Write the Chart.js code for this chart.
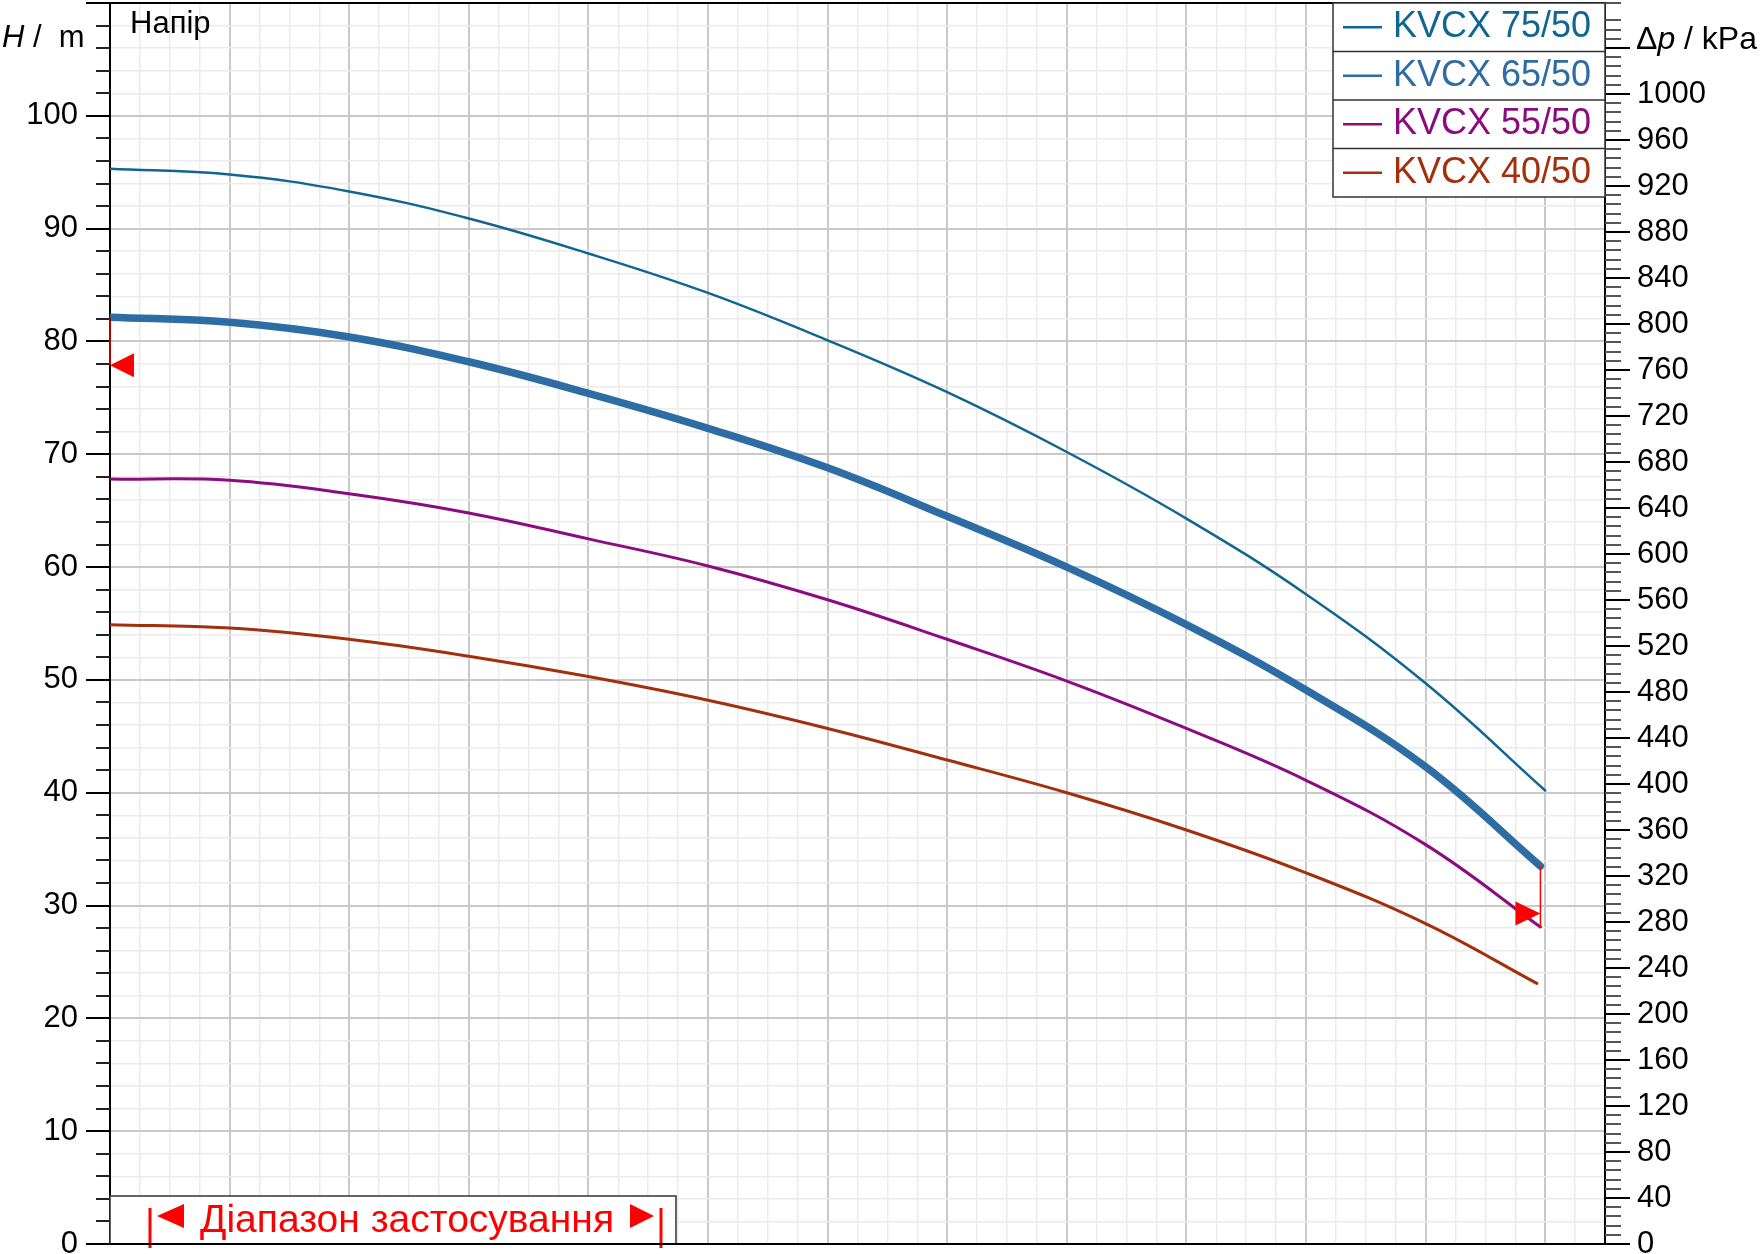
<!DOCTYPE html>
<html lang="uk">
<head>
<meta charset="utf-8">
<title>Напір</title>
<script src="https://cdn.jsdelivr.net/npm/chart.js@4.4.1/dist/chart.umd.min.js"></script>
<style>
  html, body { margin: 0; padding: 0; background: #fff; }
  #wrap { width: 1761px; height: 1254px; position: relative; }
</style>
</head>
<body>
<div id="wrap"><canvas id="chart"></canvas></div>
<script>
// flow positions, one unit per major vertical grid line (the x labels are cut off in the source)
const flow = [0, 1, 2, 3, 4, 5, 6, 7, 8, 9, 10, 11];

const models = ['KVCX 75/50', 'KVCX 65/50', 'KVCX 55/50', 'KVCX 40/50'];
const flowEnd = [12, 11.96, 11.96, 11.93];
const head75 = [95.3, 94.8, 93.3, 90.9, 87.8, 84.3, 80.1, 75.5, 70.2, 64.3, 57.6, 49.7, 40.2];
const head65 = [82.15, 81.7, 80.4, 78.2, 75.4, 72.3, 68.8, 64.5, 60.0, 54.9, 49.1, 42.3, 33.5];
const head55 = [67.8, 67.7, 66.5, 64.8, 62.5, 60.1, 57.1, 53.6, 49.9, 45.7, 41.1, 35.4, 28.1];
const head40 = [54.9, 54.6, 53.6, 52.1, 50.3, 48.2, 45.7, 42.9, 40.0, 36.7, 32.9, 28.4, 23.1];

const colors = ['#11668f', '#2e6ca4', '#8c0c80', '#a2300d'];
const widths = [2.5, 7.5, 3, 3];

// operating range (red triangles)
const rangeStart = { q: 0, h: 77.9 };
const rangeEnd = { q: 11.96, h: 29.3 };
const rangeLabel = 'Діапазон застосування';

const headMax = 110;
const flowMax = 12.5;
const kPaPerMetre = 9.81;
const kPaLabelMax = 1000;

const FONT = '"Liberation Sans", Arial, sans-serif';

function line(ctx, x1, y1, x2, y2) {
  ctx.beginPath();
  ctx.moveTo(x1, y1);
  ctx.lineTo(x2, y2);
  ctx.stroke();
}

function tri(ctx, pts, color) {
  ctx.fillStyle = color;
  ctx.beginPath();
  ctx.moveTo(pts[0], pts[1]);
  ctx.lineTo(pts[2], pts[3]);
  ctx.lineTo(pts[4], pts[5]);
  ctx.closePath();
  ctx.fill();
}

const decor = {
  id: 'decor',
  afterDraw(chart) {
    const { ctx, chartArea: a, scales } = chart;
    const x = scales.x, y = scales.y, y2 = scales.y2;
    ctx.save();

    // frame top
    ctx.strokeStyle = '#000';
    ctx.lineWidth = 2;
    line(ctx, a.left, a.top, a.right, a.top);

    // tick marks, long every 10 m / 40 kPa
    y.ticks.forEach(t => {
      const py = Math.round(y.getPixelForValue(t.value));
      const major = Math.round(t.value) % 10 === 0;
      ctx.strokeStyle = major ? '#000' : '#222';
      line(ctx, a.left - (major ? 24 : 14), py, a.left, py);
    });
    y2.ticks.forEach(t => {
      const py = Math.round(y2.getPixelForValue(t.value));
      const major = Math.abs(t.value - Math.round(t.value / 40) * 40) < 0.01;
      ctx.strokeStyle = major ? '#000' : '#555';
      line(ctx, a.right, py, a.right + (major ? 25 : 16), py);
    });

    // axis titles
    ctx.fillStyle = '#000';
    ctx.textBaseline = 'alphabetic';
    ctx.textAlign = 'left';
    ctx.font = `italic 31px ${FONT}`;
    ctx.fillText('H', 2, 47);
    let w = ctx.measureText('H').width;
    ctx.font = `31px ${FONT}`;
    ctx.fillText(' /  m', 2 + w, 47);

    ctx.font = `31px ${FONT}`;
    ctx.fillText('Напір', a.left + 20, 33);

    let tx = a.right + 31;
    ctx.font = `32px ${FONT}`;
    ctx.fillText('Δ', tx, 49);
    tx += ctx.measureText('Δ').width;
    ctx.font = `italic 32px ${FONT}`;
    ctx.fillText('p', tx, 49);
    tx += ctx.measureText('p').width;
    ctx.font = `32px ${FONT}`;
    ctx.fillText(' / kPa', tx, 49);

    // legend box
    const rowH = 48.5, lx = a.right - 272, ly = a.top;
    ctx.fillStyle = '#fff';
    ctx.fillRect(lx, ly, a.right - lx, rowH * 4);
    chart.data.datasets.forEach((ds, i) => {
      if (!ds.label) return;
      const cy = ly + rowH * i + rowH / 2;
      ctx.strokeStyle = ds.borderColor;
      ctx.lineWidth = 2.5;
      line(ctx, lx + 10, cy, lx + 49, cy);
      ctx.fillStyle = ds.borderColor;
      ctx.font = `36px ${FONT}`;
      ctx.textBaseline = 'middle';
      ctx.fillText(ds.label, lx + 60, cy);
    });
    ctx.strokeStyle = '#333';
    ctx.lineWidth = 1.5;
    ctx.strokeRect(lx, ly, a.right - lx, rowH * 4);
    for (let i = 1; i < 4; i++) line(ctx, lx, ly + rowH * i, a.right, ly + rowH * i);

    // operating range markers
    const red = '#ff0000';
    const sx = x.getPixelForValue(rangeStart.q), sy = y.getPixelForValue(rangeStart.h);
    ctx.strokeStyle = '#b00000';
    ctx.lineWidth = 2;
    line(ctx, sx, y.getPixelForValue(head65[0]), sx, sy);
    tri(ctx, [sx, sy, sx + 24, sy - 12, sx + 24, sy + 12], red);

    const ex = x.getPixelForValue(rangeEnd.q), ey = y.getPixelForValue(rangeEnd.h);
    ctx.strokeStyle = red;
    ctx.lineWidth = 1.5;
    line(ctx, ex, y.getPixelForValue(head65[head65.length - 1]), ex, y.getPixelForValue(head55[head55.length - 1]));
    tri(ctx, [ex, ey, ex - 25, ey - 12, ex - 25, ey + 12], red);

    // "Діапазон застосування" box
    ctx.font = `39px ${FONT}`;
    ctx.textBaseline = 'alphabetic';
    const textX = a.left + 90;
    const textW = ctx.measureText(rangeLabel).width;
    const by = a.bottom - 48;
    const bRight = textX + textW + 62;
    ctx.fillStyle = '#fff';
    ctx.fillRect(a.left, by, bRight - a.left, 48);
    ctx.strokeStyle = '#333';
    ctx.lineWidth = 1.5;
    ctx.strokeRect(a.left, by, bRight - a.left, 48);
    ctx.fillStyle = red;
    ctx.fillText(rangeLabel, textX, a.bottom - 12);
    const my = by + 20;
    ctx.strokeStyle = red;
    ctx.lineWidth = 3;
    line(ctx, a.left + 40, by + 12, a.left + 40, a.bottom + 4);
    tri(ctx, [a.left + 47, my, a.left + 74, my - 12, a.left + 74, my + 12], red);
    const rt = textX + textW + 16;
    tri(ctx, [rt + 24, my, rt, my - 12, rt, my + 12], red);
    line(ctx, rt + 31, by + 12, rt + 31, a.bottom + 4);

    // bottom axis line on top of the box
    ctx.strokeStyle = '#000';
    ctx.lineWidth = 2;
    line(ctx, a.left, a.bottom, a.right, a.bottom);

    ctx.restore();
  }
};

const heads = [head75, head65, head55, head40];
const datasets = heads.map((h, i) => ({
  label: models[i],
  data: h.map((v, k) => ({ x: k < flow.length ? flow[k] : flowEnd[i], y: v })),
  borderColor: colors[i],
  backgroundColor: colors[i],
  borderWidth: widths[i],
  borderCapStyle: 'round',
  borderJoinStyle: 'round',
  pointRadius: 0,
  showLine: true,
  fill: false,
  tension: 0.4
}));

const gridMajor = '#c9c9c9', gridMinor = '#ebebeb';

new Chart(document.getElementById('chart'), {
  type: 'scatter',
  data: { datasets },
  options: {
    responsive: true,
    maintainAspectRatio: false,
    animation: false,
    layout: { padding: { top: 3, left: 0, right: 0, bottom: 0 } },
    plugins: { legend: { display: false }, tooltip: { enabled: false } },
    scales: {
      x: {
        type: 'linear',
        min: 0,
        max: flowMax,
        ticks: { display: false, stepSize: 0.25, autoSkip: false, maxTicksLimit: 1000 },
        grid: {
          drawTicks: false,
          color: c => (Math.abs(c.tick.value - Math.round(c.tick.value)) < 1e-6 ? gridMajor : gridMinor),
          lineWidth: c => (Math.abs(c.tick.value - Math.round(c.tick.value)) < 1e-6 ? 2 : 1.5)
        },
        border: { display: false },
        afterFit(s) { s.height = 10; s.paddingLeft = 0; s.paddingRight = 0; }
      },
      y: {
        position: 'left',
        min: 0,
        max: headMax,
        ticks: {
          stepSize: 2,
          autoSkip: false,
          maxTicksLimit: 1000,
          padding: 8,
          color: '#000',
          font: { family: FONT, size: 31 },
          callback: v => (v % 10 === 0 && v < headMax ? v : '')
        },
        grid: {
          tickLength: 24,
          tickColor: 'transparent',
          color: c => (Math.round(c.tick.value) % 10 === 0 ? gridMajor : gridMinor),
          lineWidth: c => (Math.round(c.tick.value) % 10 === 0 ? 2 : 1.5)
        },
        border: { color: '#000', width: 2 },
        afterFit(s) { s.width = 110; s.paddingTop = 0; s.paddingBottom = 0; }
      },
      y2: {
        position: 'right',
        min: 0,
        max: headMax * kPaPerMetre,
        ticks: {
          stepSize: 8,
          autoSkip: false,
          maxTicksLimit: 1000,
          padding: 7,
          color: '#000',
          font: { family: FONT, size: 31 },
          callback: v => (Math.abs(v - Math.round(v / 40) * 40) < 0.01 && v <= kPaLabelMax ? Math.round(v) : '')
        },
        grid: { drawOnChartArea: false, tickLength: 25, tickColor: 'transparent' },
        border: { color: '#000', width: 2 },
        afterFit(s) { s.width = 156; s.paddingTop = 0; s.paddingBottom = 0; }
      }
    }
  },
  plugins: [decor]
});
</script>
</body>
</html>
